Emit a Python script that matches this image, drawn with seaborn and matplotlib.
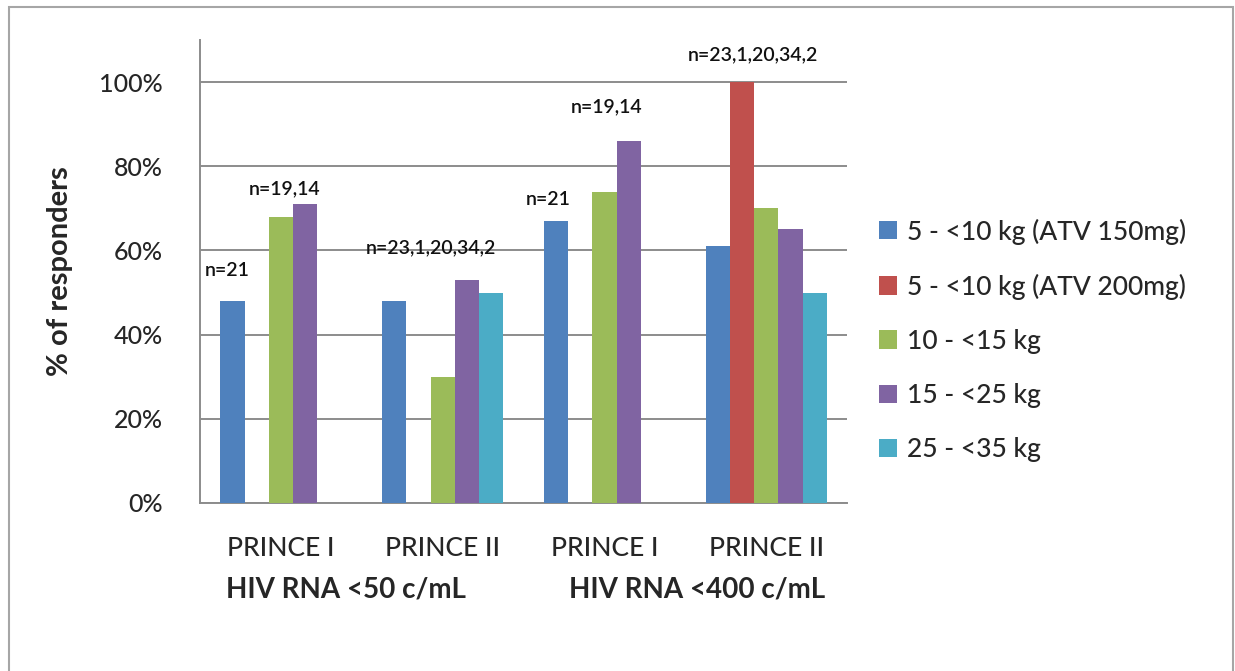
#!/usr/bin/env python3
"""
Virologic response by weight band in PRINCE I / PRINCE II.
"""
import matplotlib
matplotlib.use('Agg')  # Use non-interactive backend
import matplotlib.pyplot as plt
import matplotlib.transforms as mtransforms
from matplotlib.patches import Rectangle
import seaborn as sns
import pandas as pd
import numpy as np

# Data (% of responders, NaN = no bar)
groups = ['PRINCE I', 'PRINCE II', 'PRINCE I ', 'PRINCE II ']
tick_labels = ['PRINCE I', 'PRINCE II', 'PRINCE I', 'PRINCE II']
series = [
    '5 - <10 kg (ATV 150mg)',
    '5 - <10 kg (ATV 200mg)',
    '10 - <15 kg',
    '15 - <25 kg',
    '25 - <35 kg',
]
atv150 = [48, 48, 67, 61]
atv200 = [np.nan, np.nan, np.nan, 100]
kg10_15 = [68, 30, 74, 70]
kg15_25 = [71, 53, 86, 65]
kg25_35 = [np.nan, 50, np.nan, 50]

colors = ['#4F81BD', '#C0504D', '#9BBB59', '#8064A2', '#4BACC6']

endpoint_labels = ['HIV RNA <50 c/mL', 'HIV RNA <400 c/mL']
endpoint_x = [0.40, 2.57]

# sample-size notes: group index, x shift, y position, text
ann_group = [0, 0, 1, 2, 2, 3]
ann_dx = [-0.33, 0.02, -0.07, -0.35, 0.01, -0.08]
ann_y = [55.3, 74.6, 60.6, 72.0, 94.1, 106.4]
ann_text = ['n=21', 'n=19,14', 'n=23,1,20,34,2',
            'n=21', 'n=19,14', 'n=23,1,20,34,2']


def build_frame() -> pd.DataFrame:
    values = [atv150, atv200, kg10_15, kg15_25, kg25_35]
    rows = []
    for name, vals in zip(series, values):
        for g, v in zip(groups, vals):
            rows.append({'group': g, 'series': name, 'pct': v})
    return pd.DataFrame(rows)


def main():
    sns.set_style('white')
    plt.rcParams['font.family'] = ['Lato', 'DejaVu Sans']
    plt.rcParams['font.weight'] = 'medium'

    df = build_frame()
    grid_col = '#8c8c8c'

    fig = plt.figure(figsize=(12.35, 6.71), dpi=100)
    ax = fig.add_axes([0.162, 0.2504, 0.524, 0.69])

    sns.barplot(
        data=df, x='group', y='pct', hue='series',
        order=groups, hue_order=series, palette=colors,
        width=0.75, errorbar=None, linewidth=0, saturation=1,
        ax=ax, zorder=3
    )

    ax.set_xlim(-0.5, len(groups) - 0.5)
    ax.set_ylim(0, 110)
    ax.set_yticks(range(0, 101, 20))
    ax.set_yticklabels([f'{v}%' for v in range(0, 101, 20)], fontsize=18)
    ax.yaxis.grid(True, color=grid_col, linewidth=1.4, zorder=0)
    ax.set_axisbelow(True)

    ax.set_xticks(range(len(groups)))
    ax.set_xticklabels(tick_labels, fontsize=19)
    ax.set_xticks(np.arange(-0.5, len(groups)), minor=True)
    ax.tick_params(axis='x', which='major', length=0, pad=24)
    ax.tick_params(axis='x', which='minor', length=9, width=1.2, color=grid_col)
    ax.tick_params(axis='y', length=8, width=1.2, color=grid_col, pad=19)

    for side in ['top', 'right']:
        ax.spines[side].set_visible(False)
    for side in ['left', 'bottom']:
        ax.spines[side].set_color(grid_col)
        ax.spines[side].set_linewidth(1.4)

    ax.set_xlabel('')
    ax.set_ylabel('% of responders', fontsize=21, fontweight='bold')
    ax.yaxis.set_label_coords(-0.196, 0.5)

    # sample size notes
    for g, dx, y, t in zip(ann_group, ann_dx, ann_y, ann_text):
        ax.text(g + dx, y, t, ha='center', va='center', fontsize=14,
                fontweight='semibold', color='#111111')

    # endpoint labels under the categories
    trans = mtransforms.blended_transform_factory(ax.transData, fig.transFigure)
    for x, t in zip(endpoint_x, endpoint_labels):
        ax.text(x, 0.121, t, transform=trans, ha='center', va='center',
                fontsize=20, fontweight='bold')

    handles, labels = ax.get_legend_handles_labels()
    ax.legend(
        handles, labels, loc='center left',
        bbox_to_anchor=(0.712, 0.493), bbox_transform=fig.transFigure,
        frameon=False, fontsize=19, borderpad=0, borderaxespad=0,
        handlelength=0.68, handleheight=0.68, handletextpad=0.35,
        labelspacing=1.1
    )

    # light frame round the picture
    fig.patches.append(Rectangle(
        (9 / 1235, -0.1), 1224 / 1235, 1.1 - 7 / 671,
        transform=fig.transFigure, fill=False, edgecolor='#a6a6a6',
        linewidth=1.5, clip_on=False
    ))

    fig.savefig('out.png', dpi=100)
    print('Saved plot: out.png')
    plt.close(fig)


if __name__ == '__main__':
    main()
